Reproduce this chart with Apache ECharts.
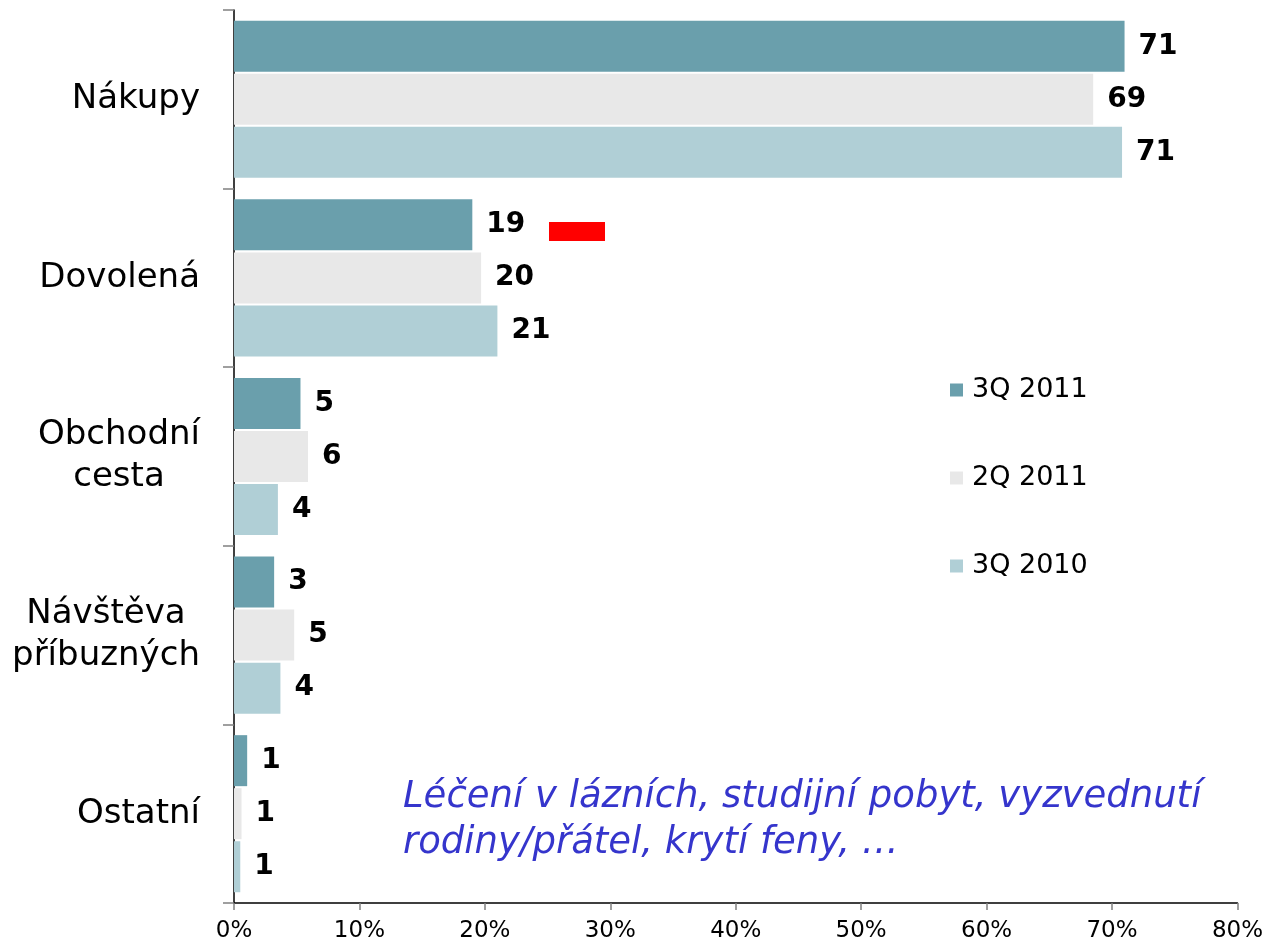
<!DOCTYPE html>
<html>
<head>
<meta charset="utf-8">
<script src="https://cdn.jsdelivr.net/npm/echarts@6/dist/echarts.min.js"></script>
<style>
  html, body { margin: 0; padding: 0; background: #fff; }
  #main { width: 1266px; height: 944px; }
</style>
</head>
<body>
<div id="main"></div>
<script>
// categories, top to bottom
const categories = ['Nákupy', 'Dovolená', 'Obchodní\ncesta', 'Návštěva\npříbuzných', 'Ostatní']
const seriesNames = ['3Q 2011', '2Q 2011', '3Q 2010']

// bar lengths (%)
const values3Q2011 = [71.0, 19.0, 5.3, 3.2, 1.05]
const values2Q2011 = [68.5, 19.7, 5.9, 4.8, 0.6]
const values3Q2010 = [70.8, 21.0, 3.5, 3.7, 0.5]

// printed value labels
const labels3Q2011 = [71, 19, 5, 3, 1]
const labels2Q2011 = [69, 20, 6, 5, 1]
const labels3Q2010 = [71, 21, 4, 4, 1]

const xTicks = [0, 10, 20, 30, 40, 50, 60, 70, 80]
const note = 'Léčení v lázních, studijní pobyt, vyzvednutí\nrodiny/přátel, krytí feny, …'

const colors = ['#6a9fac', '#e8e8e8', '#b0cfd6']
const FONT = '"DejaVu Sans", Verdana, sans-serif'

const allValues = [values3Q2011, values2Q2011, values3Q2010]
const allLabels = [labels3Q2011, labels2Q2011, labels3Q2010]

// measure label lines so multi-line categories get centred lines
const ctx = document.createElement('canvas').getContext('2d')
ctx.font = '34px "DejaVu Sans"'
const rich = {}
categories.forEach((c, i) => {
  const lines = c.split('\n')
  if (lines.length > 1) {
    const w = Math.max(...lines.map(l => ctx.measureText(l).width))
    rich['c' + i] = { width: Math.ceil(w), align: 'center', fontSize: 34, fontFamily: FONT, color: '#000', lineHeight: 42 }
  }
})

const chart = echarts.init(document.getElementById('main'))
chart.setOption({
  animation: false,
  grid: { left: 234, right: 28, top: 10, bottom: 41 },
  legend: {
    orient: 'vertical',
    left: 945,
    top: 370,
    itemWidth: 13,
    itemHeight: 13,
    itemGap: 58,
    icon: 'rect',
    data: seriesNames,
    textStyle: { fontFamily: FONT, fontSize: 27, color: '#000', lineHeight: 30, padding: [0, 0, 0, 4] }
  },
  xAxis: {
    type: 'value',
    min: xTicks[0],
    max: xTicks[xTicks.length - 1],
    interval: 10,
    splitLine: { show: false },
    axisLine: { show: true, lineStyle: { color: '#000', width: 1.5 } },
    axisTick: { show: true, length: 7, lineStyle: { color: '#808080', width: 1.5 } },
    axisLabel: { formatter: '{value}%', fontFamily: FONT, fontSize: 23, color: '#000', margin: 17 }
  },
  yAxis: {
    type: 'category',
    inverse: true,
    data: categories,
    axisLine: { show: true, lineStyle: { color: '#000', width: 1.5 } },
    axisTick: { show: true, length: 11, lineStyle: { color: '#808080', width: 1.5 } },
    axisLabel: {
      fontFamily: FONT,
      fontSize: 34,
      color: '#000',
      margin: 34,
      lineHeight: 42,
      rich: rich,
      formatter: (value, idx) => {
        const lines = value.split('\n')
        if (lines.length === 1) return value
        return lines.map(l => '{c' + idx + '|' + l + '}').join('\n')
      }
    }
  },
  series: seriesNames.map((name, s) => ({
    name: name,
    type: 'bar',
    data: allValues[s],
    barWidth: 51,
    barGap: '4%',
    itemStyle: { color: colors[s] },
    label: {
      show: true,
      position: 'right',
      distance: 14,
      fontFamily: FONT,
      fontWeight: 'bold',
      fontSize: 28,
      color: '#000',
      formatter: p => String(allLabels[s][p.dataIndex])
    }
  })),
  graphic: [
    {
      type: 'rect',
      left: 549,
      top: 222,
      shape: { width: 56, height: 19 },
      style: { fill: '#ff0000' }
    },
    {
      type: 'text',
      left: 403,
      top: 774,
      style: {
        text: note,
        font: 'italic 37px ' + FONT,
        fill: '#3535cc',
        lineHeight: 46
      }
    }
  ]
})
</script>
</body>
</html>
